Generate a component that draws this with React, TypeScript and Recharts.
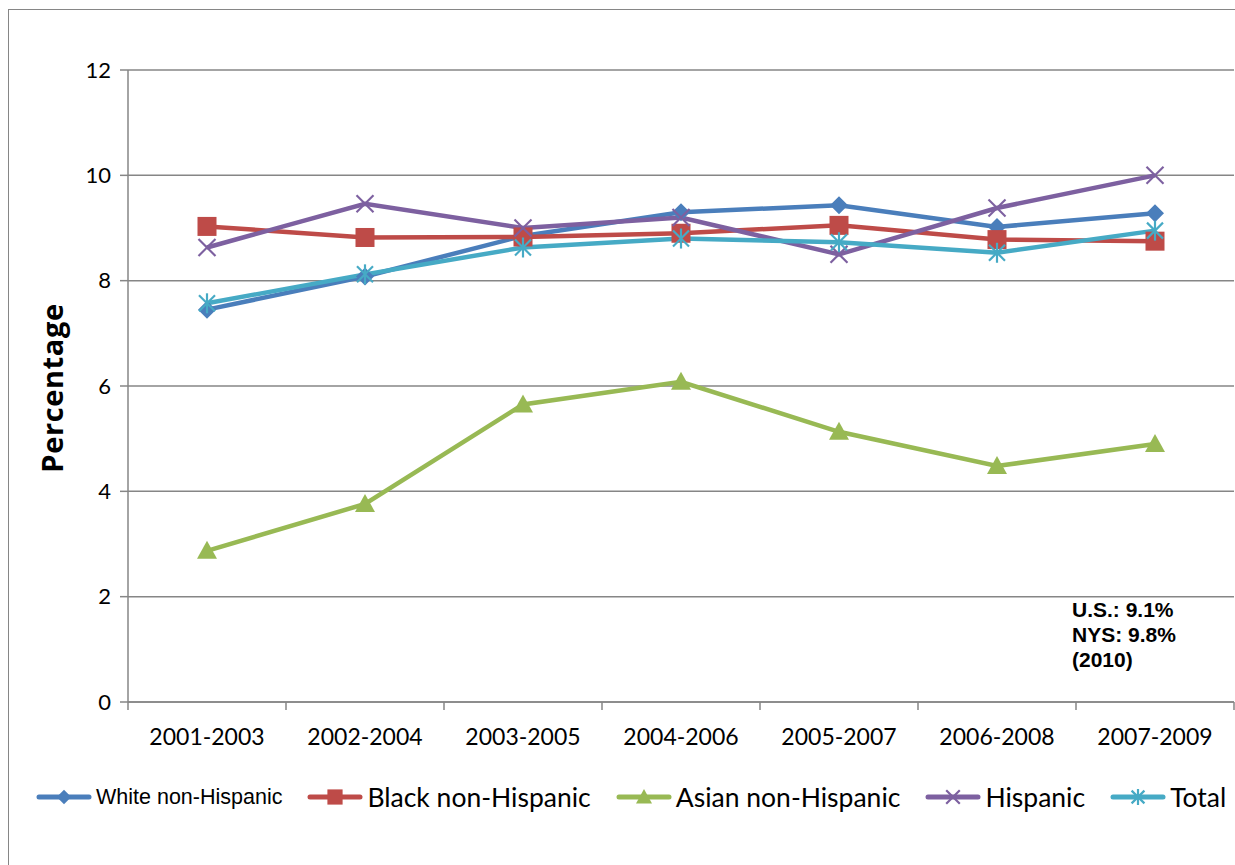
import React from "react";
import { LineChart, Line, XAxis, YAxis, CartesianGrid, Label } from "recharts";

// 3-year rolling periods
const periods = ["2001-2003", "2002-2004", "2003-2005", "2004-2006", "2005-2007", "2006-2008", "2007-2009"];

const whiteNH = [7.45, 8.08, 8.85, 9.3, 9.43, 9.02, 9.28];
const blackNH = [9.03, 8.82, 8.83, 8.9, 9.05, 8.78, 8.75];
const asianNH = [2.87, 3.76, 5.65, 6.08, 5.13, 4.48, 4.9];
const hispanic = [8.63, 9.46, 9.0, 9.2, 8.5, 9.38, 10.0];
const total = [7.57, 8.12, 8.63, 8.8, 8.73, 8.53, 8.95];

const yTicks = [0, 2, 4, 6, 8, 10, 12];

const noteLines = ["U.S.: 9.1%", "NYS: 9.8%", "(2010)"];

type MarkerKind = "diamond" | "square" | "triangle" | "x" | "star";

const series: { key: string; name: string; color: string; marker: MarkerKind; values: number[]; legendFont: string; legendSize: number }[] = [
  { key: "white", name: "White non-Hispanic", color: "#4A7EBB", marker: "diamond", values: whiteNH, legendFont: "'Liberation Sans', Arial, sans-serif", legendSize: 21.5 },
  { key: "black", name: "Black non-Hispanic", color: "#BE4B48", marker: "square", values: blackNH, legendFont: "Lato, sans-serif", legendSize: 26.5 },
  { key: "asian", name: "Asian non-Hispanic", color: "#98B954", marker: "triangle", values: asianNH, legendFont: "Lato, sans-serif", legendSize: 26.5 },
  { key: "hisp", name: "Hispanic", color: "#7D60A0", marker: "x", values: hispanic, legendFont: "Lato, sans-serif", legendSize: 26.5 },
  { key: "total", name: "Total", color: "#46AAC5", marker: "star", values: total, legendFont: "Lato, sans-serif", legendSize: 26.5 },
];

const data = periods.map((p, i) => {
  const row: Record<string, any> = { period: p };
  series.forEach((s) => (row[s.key] = s.values[i]));
  return row;
});

const GRID = "#868686";
const W = 1227;
const H = 857;
const PLOT_LEFT = 120;
const PLOT_RIGHT_MARGIN = 1;
const BAND = (W - PLOT_LEFT - PLOT_RIGHT_MARGIN) / periods.length;

const Marker = ({ kind, cx, cy, color, s = 1 }: { kind: MarkerKind; cx: number; cy: number; color: string; s?: number }) => {
  if (cx == null || cy == null) return null;
  switch (kind) {
    case "diamond":
      return <polygon points={`${cx},${cy - 9 * s} ${cx + 9 * s},${cy} ${cx},${cy + 9 * s} ${cx - 9 * s},${cy}`} fill={color} />;
    case "square":
      return <rect x={cx - 9.5 * s} y={cy - 9.5 * s} width={19 * s} height={19 * s} fill={color} />;
    case "triangle":
      return <polygon points={`${cx},${cy - 10 * s} ${cx + 10 * s},${cy + 8 * s} ${cx - 10 * s},${cy + 8 * s}`} fill={color} />;
    case "x":
      return (
        <g stroke={color} strokeWidth={2.2}>
          <line x1={cx - 8.5 * s} y1={cy - 8.5 * s} x2={cx + 8.5 * s} y2={cy + 8.5 * s} />
          <line x1={cx - 8.5 * s} y1={cy + 8.5 * s} x2={cx + 8.5 * s} y2={cy - 8.5 * s} />
        </g>
      );
    case "star":
      return (
        <g stroke={color} strokeWidth={2.2}>
          <line x1={cx - 8 * s} y1={cy - 8 * s} x2={cx + 8 * s} y2={cy + 8 * s} />
          <line x1={cx - 8 * s} y1={cy + 8 * s} x2={cx + 8 * s} y2={cy - 8 * s} />
          <line x1={cx} y1={cy - 10 * s} x2={cx} y2={cy + 10 * s} />
        </g>
      );
  }
  return null;
};

const PeriodTick = (props: any) => {
  const { x, y, payload, index } = props;
  const left = x - BAND / 2;
  return (
    <g>
      <line x1={left} y1={y} x2={left} y2={y + 8} stroke={GRID} strokeWidth={1.5} />
      {index === periods.length - 1 && <line x1={x + BAND / 2} y1={y} x2={x + BAND / 2} y2={y + 8} stroke={GRID} strokeWidth={1.5} />}
      <text x={x} y={y + 43} textAnchor="middle" fontFamily="Lato, sans-serif" fontSize={23} fill="#000">
        {payload.value}
      </text>
    </g>
  );
};

export default function App() {
  return (
    // fixed viewport-sized layer so the page never scrolls
    <div style={{ position: "fixed", left: 0, top: 0, width: 1235, height: 865, overflow: "hidden", background: "#fff" }}>
      <div style={{ position: "absolute", left: 8, top: 8, width: W, height: H }}>
        <LineChart width={W} height={H} data={data} margin={{ top: 62, right: PLOT_RIGHT_MARGIN, left: 0, bottom: 0 }}>
          <CartesianGrid vertical={false} stroke={GRID} strokeWidth={1.5} />
          <XAxis
            dataKey="period"
            height={163}
            padding={{ left: BAND / 2, right: BAND / 2 }}
            tickLine={false}
            tickSize={0}
            tickMargin={0}
            interval={0}
            axisLine={{ stroke: GRID, strokeWidth: 1.5 }}
            tick={<PeriodTick />}
          />
          <YAxis
            width={PLOT_LEFT}
            domain={[0, 12]}
            ticks={yTicks}
            interval={0}
            tickSize={8}
            tickMargin={9}
            axisLine={{ stroke: GRID, strokeWidth: 1.5 }}
            tickLine={{ stroke: GRID, strokeWidth: 1.5 }}
            tick={{ fill: "#000", fontSize: 22, fontFamily: "Lato, sans-serif" }}
          >
            <Label
              content={(p: any) => {
                const vb = p.viewBox;
                const cx = 43;
                const cy = vb.y + vb.height / 2 + 2;
                return (
                  <text x={cx} y={cy} transform={`rotate(-90, ${cx}, ${cy})`} textAnchor="middle" dominantBaseline="central" fontFamily="'Open Sans', sans-serif" fontWeight="bold" fontSize={29} letterSpacing={0.6} fill="#000">
                    Percentage
                  </text>
                );
              }}
            />
          </YAxis>
          {series.map((s) => (
            <Line
              key={s.key}
              dataKey={s.key}
              name={s.name}
              type="linear"
              stroke={s.color}
              strokeWidth={4.5}
              isAnimationActive={false}
              activeDot={false}
              dot={(p: any) => <Marker key={`${s.key}-${p.index}`} kind={s.marker} cx={p.cx} cy={p.cy} color={s.color} />}
            />
          ))}
        </LineChart>

        {/* note box */}
        <div
          style={{
            position: "absolute",
            left: 1064,
            top: 589,
            fontFamily: "'Liberation Sans', Arial, sans-serif",
            fontWeight: "bold",
            fontSize: 21,
            lineHeight: "25px",
            color: "#000",
          }}
        >
          {noteLines.map((t) => (
            <div key={t}>{t}</div>
          ))}
        </div>

        {/* legend */}
        <div style={{ position: "absolute", left: 28, top: 774, height: 30, display: "flex", alignItems: "center", gap: 25 }}>
          {series.map((s) => (
            <div key={s.key} style={{ display: "flex", alignItems: "center", gap: 4 }}>
              <svg width={56} height={24}>
                <line x1={3} y1={12} x2={53} y2={12} stroke={s.color} strokeWidth={5} strokeLinecap="round" />
                <Marker kind={s.marker} cx={28} cy={12} color={s.color} s={0.8} />
              </svg>
              <span style={{ fontFamily: s.legendFont, fontSize: s.legendSize, color: "#000", whiteSpace: "nowrap" }}>{s.name}</span>
            </div>
          ))}
        </div>

        {/* chart frame (only left & top edges fall inside the picture) */}
        <div style={{ position: "absolute", left: 0, top: 1, width: W + 20, height: H + 20, borderLeft: `1.5px solid ${GRID}`, borderTop: `1.5px solid ${GRID}`, pointerEvents: "none" }} />
      </div>
    </div>
  );
}
